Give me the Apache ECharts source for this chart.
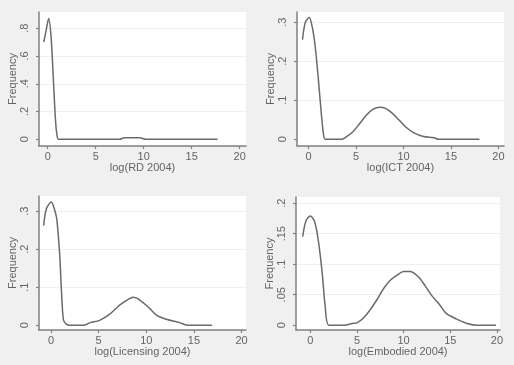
<!DOCTYPE html>
<html>
<head>
<meta charset="utf-8">
<script src="https://cdn.jsdelivr.net/npm/echarts@6/dist/echarts.min.js"></script>
<style>
html,body{margin:0;padding:0;background:#f0f0f0;}
#c{width:514px;height:365px;}
</style>
</head>
<body>
<div id="c"></div>
<script>
// ---- data ----
const xTicks = [0, 5, 10, 15, 20];

const rdTitle = 'log(RD 2004)';
const rdX = [-0.4, -0.15, 0.1, 0.35, 0.6, 0.8, 0.95, 1.15, 7.5, 8.0, 9.6, 10.2, 17.7];
const rdY = [0.70, 0.79, 0.87, 0.74, 0.42, 0.15, 0.04, 0.0, 0.0, 0.012, 0.012, 0.0, 0.0];
const rdTicks = [0, 0.2, 0.4, 0.6, 0.8];

const ictTitle = 'log(ICT 2004)';
const ictX = [-0.65, -0.35, 0.05, 0.4, 0.7, 1.0, 1.3, 1.55, 1.75, 3.5, 4.0, 4.7, 5.4, 6.1, 6.8, 7.5, 8.1, 8.8, 9.5, 10.2, 11.05, 12.1, 13.2, 13.7, 18.0];
const ictY = [0.255, 0.30, 0.312, 0.285, 0.235, 0.16, 0.075, 0.015, 0.0, 0.0, 0.007, 0.02, 0.041, 0.062, 0.077, 0.082, 0.079, 0.067, 0.05, 0.032, 0.017, 0.007, 0.004, 0.0, 0.0];
const ictTicks = [0, 0.1, 0.2, 0.3];

const licTitle = 'log(Licensing 2004)';
const licX = [-0.77, -0.49, 0.03, 0.3, 0.6, 0.9, 1.1, 1.3, 1.6, 2.0, 3.4, 4.1, 5.1, 6.2, 7.2, 8.1, 8.6, 9.1, 10.2, 11.1, 12.1, 13.5, 14.4, 16.9];
const licY = [0.262, 0.306, 0.324, 0.31, 0.28, 0.19, 0.09, 0.015, 0.003, 0.0, 0.0, 0.007, 0.013, 0.03, 0.053, 0.068, 0.074, 0.07, 0.048, 0.026, 0.016, 0.007, 0.0, 0.0];
const licTicks = [0, 0.1, 0.2, 0.3];

const embTitle = 'log(Embodied 2004)';
const embX = [-0.81, -0.46, 0.0, 0.43, 0.8, 1.25, 1.6, 2.0, 3.6, 4.5, 5.0, 5.7, 6.4, 7.1, 7.9, 8.6, 9.3, 10.0, 10.7, 11.6, 12.3, 13.0, 13.8, 14.6, 15.7, 16.8, 17.9, 19.9];
const embY = [0.145, 0.171, 0.179, 0.171, 0.145, 0.09, 0.031, 0.0, 0.0, 0.003, 0.004, 0.012, 0.025, 0.041, 0.061, 0.074, 0.082, 0.088, 0.088, 0.079, 0.065, 0.049, 0.035, 0.019, 0.01, 0.003, 0.0, 0.0];
const embTicks = [0, 0.05, 0.1, 0.15, 0.2];

// ---- layout ----
const panels = [
  {t: rdTitle,  X: rdX,  Y: rdY,  yt: rdTicks,  g: {left: 39,  top: 12,  width: 207, height: 134}, xr: [-0.906, 20.66], yr: [-0.0483, 0.917]},
  {t: ictTitle, X: ictX, Y: ictY, yt: ictTicks, g: {left: 297, top: 12,  width: 207, height: 134}, xr: [-1.23, 20.59],  yr: [-0.0172, 0.326]},
  {t: licTitle, X: licX, Y: licY, yt: licTicks, g: {left: 39,  top: 196, width: 207, height: 134}, xr: [-1.26, 20.46],  yr: [-0.0124, 0.340]},
  {t: embTitle, X: embX, Y: embY, yt: embTicks, g: {left: 296, top: 197, width: 204, height: 133}, xr: [-1.53, 20.33],  yr: [-0.0077, 0.21]}
];

const FONT = 'Liberation Sans';
const TXT = '#646464';
const AX = '#808080';
const fmtY = v => v === 0 ? '0' : String(v).replace(/^0\./, '.');

const grid = [], xAxis = [], yAxis = [], series = [];
panels.forEach((p, i) => {
  grid.push(Object.assign({show: true, backgroundColor: '#ffffff', borderWidth: 0}, p.g));
  xAxis.push({
    type: 'value', gridIndex: i, min: p.xr[0], max: p.xr[1],
    name: p.t, nameLocation: 'middle', nameGap: 15,
    nameTextStyle: {fontFamily: FONT, fontSize: 11, color: TXT},
    axisLine: {show: true, onZero: false, lineStyle: {color: AX, width: 1.5}},
    axisTick: {show: true, length: 3, customValues: xTicks, lineStyle: {color: AX, width: 1.2}},
    axisLabel: {customValues: xTicks, margin: 5, fontFamily: FONT, fontSize: 11, color: TXT},
    splitLine: {show: false}
  });
  yAxis.push({
    type: 'value', gridIndex: i, min: p.yr[0], max: p.yr[1],
    name: 'Frequency', nameLocation: 'middle', nameGap: 19, nameRotate: 90,
    nameTextStyle: {fontFamily: FONT, fontSize: 11, color: TXT},
    axisLine: {show: true, onZero: false, lineStyle: {color: AX, width: 1.5}},
    axisTick: {show: true, length: 3, customValues: p.yt, lineStyle: {color: AX, width: 1.2}},
    axisLabel: {customValues: p.yt, rotate: 90, margin: 9, fontFamily: FONT, fontSize: 11, color: TXT, formatter: fmtY},
    splitLine: {show: false}
  });
  series.push({
    type: 'line', xAxisIndex: i, yAxisIndex: i, showSymbol: false, symbol: 'none',
    smooth: 0.3,
    lineStyle: {color: '#6a6a6a', width: 1.5},
    data: p.X.map((x, k) => [x, p.Y[k]]),
    markLine: {
      silent: true, symbol: 'none', label: {show: false}, z: 0,
      lineStyle: {color: '#eef1f2', width: 1, type: 'solid'},
      data: p.yt.filter(v => v !== 0).map(v => ({yAxis: v}))
    }
  });
});

const chart = echarts.init(document.getElementById('c'), null, {renderer: 'canvas'});
chart.setOption({
  backgroundColor: '#f0f0f0',
  animation: false,
  grid, xAxis, yAxis, series
});
</script>
</body>
</html>
